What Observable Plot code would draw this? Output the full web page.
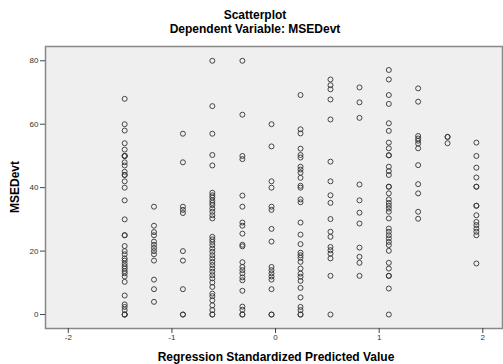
<!DOCTYPE html>
<html>
<head>
<meta charset="utf-8">
<script src="https://cdn.jsdelivr.net/npm/d3@7"></script>
<script src="https://cdn.jsdelivr.net/npm/@observablehq/plot@0.6"></script>
<style>
  body { margin: 0; background: #fff; font-family: "Liberation Sans", Arial, sans-serif; }
  #wrap { position: relative; width: 503px; height: 364px; overflow: hidden; }
  #wrap svg { position: absolute; left: 0; top: 0; }
  .t { position: absolute; font-weight: bold; font-size: 12px; line-height: 14px; height: 14px; white-space: nowrap; color: #000; transform: translateX(-50%); }
  .ylab { position: absolute; font-weight: bold; font-size: 12px; line-height: 14px; white-space: nowrap; transform: translate(-50%, -50%) rotate(-90deg); }
</style>
</head>
<body>
<div id="wrap">
  <div class="t" style="left:255px; top:8px;">Scatterplot</div>
  <div class="t" style="left:255px; top:22px;">Dependent Variable: MSEDevt</div>
  <div class="t" style="left:276px; top:350px;">Regression Standardized Predicted Value</div>
  <div class="ylab" style="left:15px; top:187px;">MSEDevt</div>
</div>
<script>
const xTicks = [-2, -1, 0, 1, 2];
const yTicks = [0, 20, 40, 60, 80];

// predicted-value columns (x positions)
const colX = [-1.456, -1.173, -0.894, -0.61, -0.32, -0.039, 0.241, 0.53, 0.81, 1.093, 1.376, 1.66, 1.938];

// MSEDevt values in each column
const col1 = [68, 60, 58, 54, 52, 50, 50, 50, 48, 47, 45, 44, 44, 42, 40, 36, 30, 25, 25, 21.6, 20, 19, 17.7, 17, 16, 15.2, 14.5, 13.7, 13, 12, 10.3, 6, 3.2, 2.4, 1.4, 0, 0, 0];
const col2 = [34, 28, 26, 25, 23, 22, 21, 20, 19, 17, 11, 8, 4];
const col3 = [57, 48, 34, 33, 32, 20, 17, 8, 0, 0];
const col4 = [80, 65.7, 57, 50.3, 47, 38.4, 37.6, 36.9, 36, 35.2, 34.5, 33.4, 32.4, 31.3, 30.3, 24.5, 23.7, 22.9, 21.9, 20.8, 19.8, 18.7, 17.7, 16.6, 15.6, 14.5, 13.5, 12.4, 11.4, 10.1, 8.7, 6.6, 5.8, 4.5, 2.9, 1.4, 0, 0];
const col5 = [80, 63, 50, 49, 37.5, 34, 29, 28, 25.5, 22, 21.5, 16.5, 15, 14, 13, 11.7, 10.8, 7.5, 2.5, 1.5, 0, 0];
const col6 = [60, 53, 42, 40, 34, 33, 27, 23, 15, 14, 13, 12, 11, 8, 0, 0];
const col7 = [69.2, 58.4, 57.1, 52.3, 50.3, 49.5, 46.6, 45.7, 44.7, 43.1, 40.6, 40, 36.3, 35.4, 29, 25.2, 22.2, 19.5, 18.7, 17.9, 16.6, 14.5, 12.9, 11.9, 10.6, 8.4, 5.4, 2.4, 1.4, 0, 0];
const col8 = [74.1, 72.3, 71, 67.8, 61.5, 48.2, 42, 37.6, 35.2, 30.1, 26.1, 24.5, 21.3, 20.3, 19.2, 17.7, 12.2, 0];
const col9 = [71.6, 66.9, 62, 41, 36, 32.1, 28.7, 21.1, 18.2, 16.3, 12.2];
const col10 = [77.1, 74.1, 69.2, 66.4, 60.3, 57.9, 54.2, 52.4, 50.2, 50.2, 46.6, 45.2, 44, 40.3, 40.3, 38.2, 36.3, 35.2, 34.3, 33.4, 32.4, 30.3, 27.1, 26.1, 25, 24, 22.9, 21.9, 20.1, 16.3, 14.5, 12.2, 12.2, 8.2, 0];
const col11 = [71.3, 67.1, 56.3, 55.5, 54.8, 53.9, 52.4, 47.1, 41.1, 38.2, 32.4, 30.2];
const col12 = [56, 56, 54];
const col13 = [54.2, 50, 46.3, 43.2, 40.3, 40.3, 34.3, 34.3, 31.3, 29.2, 28.2, 27.1, 26.1, 25, 16.1];

const columns = [col1, col2, col3, col4, col5, col6, col7, col8, col9, col10, col11, col12, col13];
const data = columns.flatMap((vals, i) => vals.map(v => ({x: colX[i], y: v})));

const chart = Plot.plot({
  width: 503,
  height: 364,
  marginLeft: 45,
  marginRight: 1,
  marginTop: 46,
  marginBottom: 36,
  style: {fontFamily: "Liberation Sans, Arial, sans-serif", fontSize: "8px", color: "#333", background: "transparent"},
  x: {domain: [-2.22, 2.19], ticks: xTicks, tickFormat: d => String(d), tickSize: 5, tickPadding: 1, label: null},
  y: {domain: [-4.4, 84.5], ticks: yTicks, tickFormat: d => String(d), tickSize: 5, tickPadding: 2, label: null},
  marks: [
    Plot.frame({fill: "#efefef", stroke: "#888", strokeWidth: 1.5}),
    Plot.axisX({ticks: xTicks, tickFormat: d => String(d), tickSize: 5, tickPadding: 1, label: null, stroke: "#444"}),
    Plot.axisY({ticks: yTicks, tickFormat: d => String(d), tickSize: 5, tickPadding: 2, label: null, stroke: "#444"}),
    Plot.dot(data, {x: "x", y: "y", r: 2.5, stroke: "#333", strokeWidth: 0.9, fill: "none"})
  ]
});
document.getElementById("wrap").prepend(chart);
</script>
</body>
</html>
